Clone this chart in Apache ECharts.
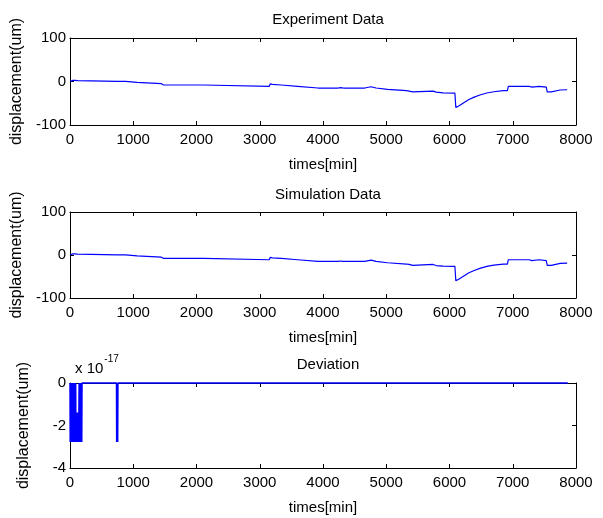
<!DOCTYPE html>
<html>
<head>
<meta charset="utf-8">
<script src="https://cdn.jsdelivr.net/npm/echarts@6/dist/echarts.min.js"></script>
<style>
html,body{margin:0;padding:0;background:#fff;}
#chart{width:603px;height:518px;}
</style>
</head>
<body>
<div id="chart"></div>
<script>
// ---- data ----
const titles = ['Experiment Data', 'Simulation Data', 'Deviation'];
const xAxisName = 'times[min]';
const yAxisName = 'displacement(um)';

const timeMin = [0,15,30,45,60,80,100,120,140,750,765,780,880,900,1060,1075,1445,1460,1480,2115,2130,
  3150,3165,3200,3230,3340,3355,3600,3615,3920,3930,3940,4240,4255,4280,4300,4320,4660,4680,4760,4780,4840,4855,
  5020,5035,5320,5340,5360,5420,5440,5740,5755,5790,5800,5900,5910,6085,6100,6140,6220,6300,6380,6480,6590,6700,
  6850,6915,6930,7220,7240,7260,7300,7420,7440,7530,7545,7610,7625,7750,7760,7860];
const experimentUm = [0,2.5,-0.5,2.5,0.5,2.5,0,2,0.3,0.3,3.5,0.3,0.3,-2,-2,-5,-5,-8.5,-8,-8,-11,
  -11,-5.5,-6.5,-8,-8,-11,-11,-15,-15,-13,-15,-15,-12,-14,-12,-15,-15,-11,-12,-15,-15,-18,
  -18,-21,-21,-24,-22,-24,-22,-22,-26.5,-24.5,-26.5,-26,-26.5,-26.5,-59.5,-57,-49.5,-42,-36.5,-31,-26.5,-23.5,
  -21,-21,-11,-11,-14,-11,-13,-11,-14,-13,-24,-24,-19.5,-19.5,-18.5,-19];
// simulation differs from experiment only by ~1e-17 um
const simulationUm = experimentUm;

const deviationTime = [0,3,6,9,12,15,18,21,24,27,30,33,36,39,42,45,48,51,54,57,60,63,66,69,72,75,78,81,84,87,90,93,
  97,102,108,114,120,126,132,138,144,150,156,162,168,174,180,186,190,735,738,742,746,750,754,758,7870];
// in units of 1e-17 um
const deviationE17 = [0,-2.78,0,-2.78,0,-2.78,0,-2.78,0,-2.78,0,-2.78,0,-2.78,0,-2.78,0,-2.78,0,-2.78,0,-2.78,0,-2.78,0,-2.78,0,-2.78,0,-2.78,0,-2.78,
  -1.39,-2.78,-1.39,-2.78,-1.39,-2.78,-1.39,-2.78,0,-2.78,0,-2.78,0,-2.78,0,-2.78,0,0,-2.78,0,-2.78,0,-2.78,0,0];

const xRange = {min: 0, max: 8000, interval: 1000};
const yRanges = [{min: -100, max: 100, interval: 100}, {min: -100, max: 100, interval: 100}, {min: -4, max: 0, interval: 2}];

// ---- layout ----
const FONT = "'Liberation Sans', Arial, Helvetica, sans-serif";
const grids = [
  {left: 70, top: 38, width: 506, height: 87},
  {left: 70, top: 212, width: 506, height: 86},
  {left: 70, top: 383, width: 506, height: 85}
];
const titleTops = [7, 182, 352];

const zip = (a, b) => a.map((v, i) => [v, b[i]]);
const lineAxis = {lineStyle: {color: '#000', width: 1}};
const tick = {inside: true, length: 4, lineStyle: {color: '#000'}};
const plain = v => String(v);

const xAxes = [], yAxes = [], series = [], titleArr = [];
grids.forEach((g, i) => {
  xAxes.push({type: 'value', gridIndex: i, position: 'bottom', ...xRange,
    axisLine: {show: true, onZero: false, ...lineAxis}, axisTick: tick, splitLine: {show: false},
    axisLabel: {color: '#000', fontSize: 15, fontFamily: FONT, margin: 7, formatter: plain},
    name: xAxisName, nameLocation: 'middle', nameGap: 32,
    nameTextStyle: {color: '#000', fontSize: 15, fontFamily: FONT}});
  xAxes.push({type: 'value', gridIndex: i, position: 'top', ...xRange,
    axisLine: {show: true, onZero: false, ...lineAxis}, axisTick: tick, splitLine: {show: false},
    axisLabel: {show: false}});
  yAxes.push({type: 'value', gridIndex: i, position: 'left', ...yRanges[i],
    axisLine: {show: true, onZero: false, ...lineAxis}, axisTick: tick, splitLine: {show: false},
    axisLabel: {color: '#000', fontSize: 15, fontFamily: FONT, margin: 4, formatter: plain},
    name: yAxisName, nameLocation: 'middle', nameGap: 38,
    nameTextStyle: {color: '#000', fontSize: 16, fontFamily: FONT}});
  yAxes.push({type: 'value', gridIndex: i, position: 'right', ...yRanges[i],
    axisLine: {show: true, onZero: false, ...lineAxis}, axisTick: tick, splitLine: {show: false},
    axisLabel: {show: false}});
  titleArr.push({text: titles[i], left: g.left + g.width / 2, top: titleTops[i], textAlign: 'center',
    textStyle: {color: '#000', fontSize: 15, fontWeight: 'normal', fontFamily: FONT}});
});

titleArr.push({text: '{b|x 10}{sup|-17}', left: 70, top: 346,
  textStyle: {color: '#000', fontWeight: 'normal', fontFamily: FONT,
    rich: {
      b: {fontSize: 15, fontFamily: FONT, color: '#000', padding: [10, 0, 0, 0]},
      sup: {fontSize: 10, fontFamily: FONT, color: '#000', padding: [0, 0, 9, 1]}
    }}});

const seriesData = [zip(timeMin, experimentUm), zip(timeMin, simulationUm), zip(deviationTime, deviationE17)];
seriesData.forEach((d, i) => {
  series.push({type: 'line', xAxisIndex: i * 2, yAxisIndex: i * 2, data: d, showSymbol: false,
    symbol: 'none', clip: false, animation: false,
    lineStyle: {color: '#0000ff', width: i === 2 ? 1.5 : 1.2}});
});

const chart = echarts.init(document.getElementById('chart'), null, {renderer: 'canvas'});
chart.setOption({
  backgroundColor: '#fff',
  animation: false,
  title: titleArr,
  grid: grids,
  xAxis: xAxes,
  yAxis: yAxes,
  series: series
});
</script>
</body>
</html>
